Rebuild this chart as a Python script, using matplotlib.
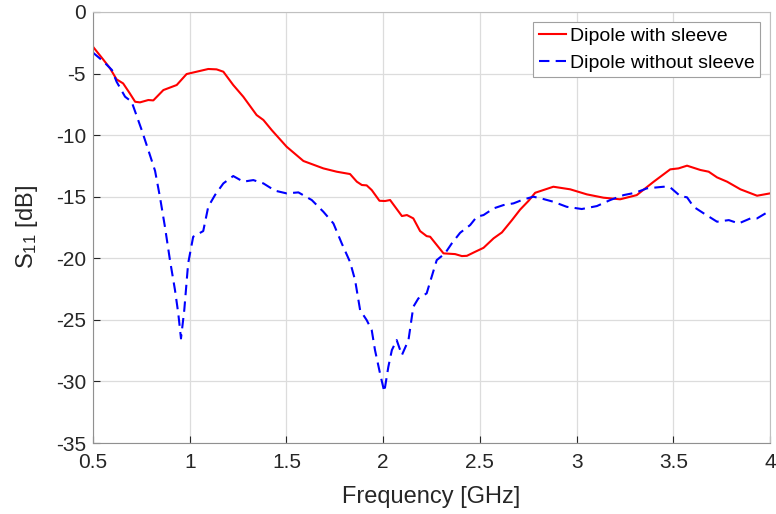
import matplotlib
matplotlib.use("Agg")
import matplotlib.pyplot as plt

plt.rcParams['font.family'] = ['Liberation Sans', 'DejaVu Sans']
plt.rcParams['mathtext.fontset'] = 'custom'
plt.rcParams['mathtext.rm'] = 'Liberation Sans'
plt.rcParams['mathtext.it'] = 'Liberation Sans'
plt.rcParams['axes.unicode_minus'] = False

# Dipole with sleeve
f_with = [0.5, 0.555, 0.588, 0.622, 0.656, 0.69, 0.718, 0.743, 0.786, 0.812, 0.864, 0.933,
          0.984, 1.036, 1.096, 1.139, 1.174, 1.225, 1.277, 1.346, 1.381, 1.424, 1.501,
          1.588, 1.691, 1.76, 1.829, 1.864, 1.89, 1.915, 1.941, 1.981, 2.01, 2.036,
          2.097, 2.123, 2.156, 2.191, 2.225, 2.243, 2.312, 2.372, 2.407, 2.433, 2.476,
          2.519, 2.571, 2.614, 2.666, 2.708, 2.752, 2.786, 2.88, 2.967, 3.053, 3.139,
          3.225, 3.311, 3.398, 3.484, 3.527, 3.571, 3.64, 3.683, 3.726, 3.778, 3.847,
          3.933, 4.0]
s11_with = [-2.82, -3.9, -4.57, -5.47, -5.8, -6.6, -7.29, -7.34, -7.15, -7.18, -6.34, -5.93,
            -5.04, -4.85, -4.63, -4.66, -4.85, -5.93, -6.88, -8.37, -8.77, -9.59, -10.94,
            -12.1, -12.7, -12.97, -13.16, -13.78, -14.05, -14.08, -14.46, -15.33, -15.35, -15.27,
            -16.57, -16.49, -16.76, -17.79, -18.2, -18.25, -19.6, -19.66, -19.82, -19.8, -19.47,
            -19.15, -18.38, -17.9, -16.9, -16.05, -15.33, -14.68, -14.19, -14.4, -14.81, -15.08,
            -15.21, -14.87, -13.79, -12.78, -12.7, -12.48, -12.83, -12.97, -13.43, -13.78, -14.4,
            -14.92, -14.73]

# Dipole without sleeve
f_without = [0.5, 0.555, 0.598, 0.622, 0.666, 0.7, 0.752, 0.786, 0.821, 0.846, 0.872, 0.898,
             0.924, 0.941, 0.955, 0.972, 0.992, 1.018, 1.07, 1.096, 1.131, 1.174, 1.225,
             1.277, 1.329, 1.381, 1.441, 1.501, 1.562, 1.631, 1.691, 1.743, 1.786, 1.829,
             1.855, 1.881, 1.915, 1.941, 1.958, 1.984, 2.006, 2.027, 2.045, 2.07, 2.097,
             2.131, 2.156, 2.182, 2.225, 2.243, 2.277, 2.32, 2.355, 2.398, 2.45, 2.484,
             2.519, 2.571, 2.622, 2.674, 2.726, 2.777, 2.829, 2.88, 2.949, 3.027, 3.105,
             3.174, 3.243, 3.303, 3.364, 3.45, 3.484, 3.536, 3.571, 3.605, 3.657, 3.726,
             3.787, 3.838, 3.899, 3.933, 3.991, 4.0]
s11_without = [-3.3, -4.03, -4.71, -5.66, -6.88, -7.29, -9.59, -11.21, -12.9, -15.0, -17.44, -20.15,
               -22.58, -24.48, -26.51, -24.21, -20.42, -18.25, -17.79, -15.81, -14.86, -13.92, -13.32,
               -13.78, -13.65, -13.92, -14.51, -14.73, -14.65, -15.27, -16.22, -17.17, -18.79, -20.3,
               -21.77, -24.21, -25.02, -25.83, -27.46, -29.35, -30.84, -28.81, -27.46, -26.64, -27.86,
               -26.64, -23.94, -23.26, -22.85, -21.91, -20.15, -19.6, -18.79, -17.93, -17.3, -16.63,
               -16.49, -15.95, -15.68, -15.54, -15.22, -15.0, -15.19, -15.41, -15.82, -16.0, -15.76,
               -15.27, -14.87, -14.68, -14.32, -14.19, -14.24, -14.95, -15.05, -15.82, -16.35, -17.03,
               -16.9, -17.17, -16.76, -16.76, -16.22, -16.15]

fig = plt.figure(figsize=(7.76, 5.14), dpi=100)
ax = fig.add_axes([0.1198, 0.1381, 0.8725, 0.8386])

ax.plot(f_with, s11_with, color='#ff0000', linewidth=1.5, label='Dipole with sleeve')
ax.plot(f_without, s11_without, color='#0000ff', linewidth=1.5, linestyle=(0, (5, 3)),
        label='Dipole without sleeve')

ax.set_xlim(0.5, 4)
ax.set_ylim(-35, 0)
ax.set_xticks([0.5, 1, 1.5, 2, 2.5, 3, 3.5, 4])
ax.set_xticklabels(['0.5', '1', '1.5', '2', '2.5', '3', '3.5', '4'])
ax.set_yticks(range(-35, 1, 5))
ax.grid(True, color='#dcdcdc', linewidth=0.9)
ax.tick_params(direction='in', labelsize=15, colors='#262626', length=5)
ax.tick_params(axis='x', pad=7)
ax.tick_params(axis='y', pad=5)
for s in ax.spines.values():
    s.set_color('#c0c0c0')
ax.spines['left'].set_color('#909090')
ax.spines['bottom'].set_color('#909090')

ax.set_xlabel('Frequency [GHz]', fontsize=17, color='#262626', labelpad=10)
ax.set_ylabel(r'S$_{\mathregular{11}}$ [dB]', fontsize=17, color='#262626', labelpad=11)

leg = ax.legend(loc='upper right', fontsize=14, fancybox=False, framealpha=1,
                edgecolor='#a0a0a0', handlelength=1.4, handletextpad=0.2,
                borderpad=0.3, labelspacing=0.45, borderaxespad=0.5)
leg.get_frame().set_linewidth(0.8)

fig.savefig('out.png', dpi=100)
